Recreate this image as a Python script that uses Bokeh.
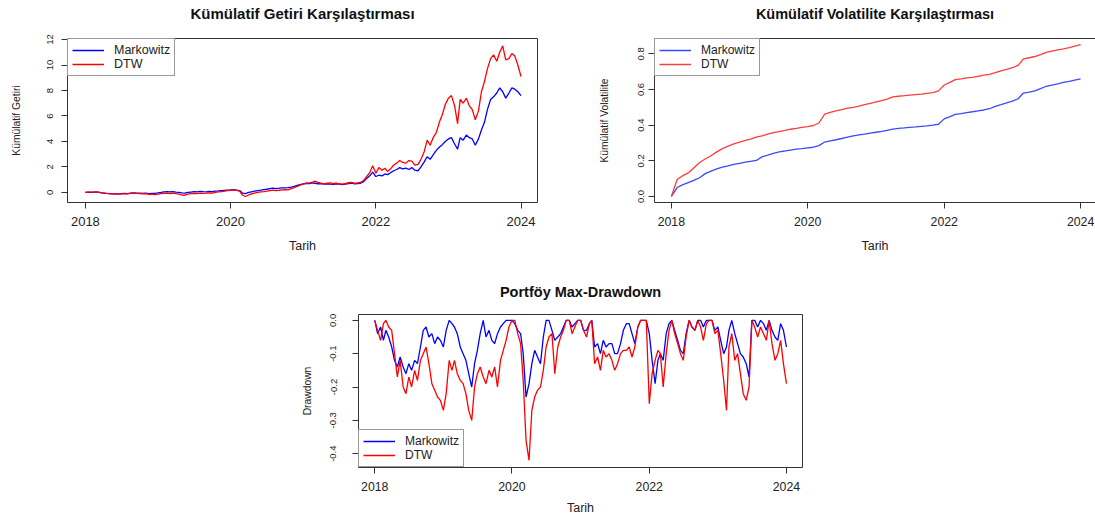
from datetime import datetime, timedelta
from bokeh.plotting import figure
from bokeh.models import (Range1d, FixedTicker, DatetimeTickFormatter, NumeralTickFormatter,
                          Legend, LegendItem, Spacer, DatetimeAxis, ColumnDataSource)
from bokeh.layouts import row, column
from bokeh.embed import file_html
from bokeh.resources import INLINE

# ---------------- data ----------------
half_month_dates = [datetime(y, m, d) for y in range(2018, 2024) for m in range(1, 13) for d in (1, 16)] + [datetime(2024, 1, 1)]
month_dates = [datetime(y, m, 1) for y in range(2018, 2024) for m in range(1, 13)] + [datetime(2024, 1, 1)]

cum_ret_markowitz = [
    0.00, 0.02, 0.00, 0.03, 0.02, -0.02, -0.05, -0.08, -0.10, -0.12, -0.10, -0.13,
    -0.10, -0.08, -0.10, -0.06, -0.04, -0.06, -0.05, -0.08, -0.06, -0.09, -0.07, -0.08,
    -0.04, 0.00, 0.05, 0.06, 0.04, 0.07, 0.03, 0.00, -0.04, -0.06, 0.00, 0.03,
    0.06, 0.04, 0.08, 0.06, 0.05, 0.08, 0.07, 0.10, 0.12, 0.14, 0.16, 0.18,
    0.20, 0.22, 0.18, 0.15, -0.05, -0.10, 0.00, 0.05, 0.10, 0.15, 0.18, 0.22,
    0.25, 0.30, 0.33, 0.30, 0.33, 0.36, 0.35, 0.38, 0.42, 0.48, 0.55, 0.62,
    0.68, 0.72, 0.70, 0.75, 0.72, 0.68, 0.70, 0.65, 0.68, 0.66, 0.64, 0.68,
    0.65, 0.62, 0.66, 0.70, 0.74, 0.68, 0.70, 0.72, 0.85, 1.10, 1.30, 1.60,
    1.25, 1.35, 1.30, 1.45, 1.40, 1.55, 1.70, 1.80, 1.95, 1.85, 1.90, 1.80,
    1.95, 1.75, 1.70, 2.00, 2.40, 2.80, 2.60, 2.95, 3.30, 3.55, 3.75, 4.00,
    4.20, 4.30, 3.80, 3.40, 4.30, 4.10, 4.50, 4.30, 4.20, 3.70, 4.20, 4.90,
    5.50, 6.50, 7.30, 7.50, 7.80, 8.20, 7.90, 7.40, 7.80, 8.20, 8.10, 7.90,
    7.60]
cum_ret_dtw = [
    0.00, 0.03, 0.02, 0.05, 0.04, 0.00, -0.04, -0.07, -0.10, -0.12, -0.11, -0.14,
    -0.12, -0.09, -0.12, -0.08, -0.06, -0.08, -0.09, -0.12, -0.10, -0.15, -0.14, -0.17,
    -0.14, -0.10, -0.08, -0.06, -0.09, -0.05, -0.10, -0.14, -0.20, -0.22, -0.14, -0.10,
    -0.07, -0.09, -0.05, -0.08, -0.06, -0.04, -0.05, 0.00, 0.04, 0.07, 0.10, 0.14,
    0.17, 0.20, 0.16, 0.10, -0.22, -0.32, -0.20, -0.12, -0.05, 0.00, 0.05, 0.07,
    0.10, 0.15, 0.18, 0.15, 0.17, 0.20, 0.22, 0.20, 0.30, 0.38, 0.48, 0.58,
    0.65, 0.72, 0.75, 0.80, 0.88, 0.78, 0.72, 0.68, 0.72, 0.75, 0.70, 0.72,
    0.68, 0.66, 0.70, 0.76, 0.78, 0.72, 0.74, 0.78, 0.95, 1.25, 1.55, 2.10,
    1.50, 1.95, 1.75, 1.90, 1.65, 1.85, 2.15, 2.30, 2.50, 2.35, 2.30, 2.50,
    2.45, 2.15, 2.20, 2.60, 3.20, 4.10, 3.70, 4.30, 4.70, 5.50, 6.10, 6.90,
    7.40, 7.60, 6.80, 5.40, 7.30, 7.00, 7.40, 6.80, 6.50, 5.70, 6.40, 7.90,
    8.70, 9.70, 10.50, 10.80, 10.30, 11.00, 11.50, 10.40, 10.50, 10.90, 10.70, 10.00,
    9.10]

cum_vol_markowitz = [
    0.000, 0.050, 0.065, 0.078, 0.090, 0.105, 0.128, 0.142, 0.155, 0.165, 0.172, 0.180,
    0.186, 0.192, 0.197, 0.202, 0.222, 0.232, 0.242, 0.250, 0.255, 0.260, 0.265, 0.268,
    0.272, 0.276, 0.285, 0.305, 0.312, 0.318, 0.325, 0.333, 0.340, 0.345, 0.350, 0.355,
    0.360, 0.365, 0.370, 0.378, 0.382, 0.385, 0.388, 0.390, 0.393, 0.396, 0.400, 0.405,
    0.435, 0.448, 0.460, 0.465, 0.470, 0.475, 0.480, 0.485, 0.492, 0.505, 0.515, 0.525,
    0.535, 0.548, 0.580, 0.585, 0.592, 0.605, 0.618, 0.625, 0.632, 0.640, 0.645, 0.653,
    0.660]
cum_vol_dtw = [
    0.000, 0.095, 0.115, 0.132, 0.160, 0.190, 0.210, 0.228, 0.250, 0.268, 0.282, 0.295,
    0.305, 0.315, 0.322, 0.333, 0.340, 0.350, 0.358, 0.364, 0.370, 0.377, 0.382, 0.388,
    0.392, 0.398, 0.412, 0.462, 0.472, 0.480, 0.487, 0.495, 0.500, 0.507, 0.515, 0.522,
    0.530, 0.538, 0.546, 0.558, 0.562, 0.565, 0.568, 0.571, 0.574, 0.578, 0.582, 0.592,
    0.625, 0.640, 0.655, 0.660, 0.665, 0.668, 0.674, 0.680, 0.685, 0.695, 0.705, 0.713,
    0.722, 0.735, 0.772, 0.778, 0.785, 0.795, 0.808, 0.815, 0.822, 0.828, 0.835, 0.843,
    0.852]

drawdown_markowitz = [
    0.00, -0.04, -0.02, -0.06, -0.03, -0.05, -0.08, -0.12, -0.14, -0.11, -0.14, -0.16,
    -0.13, -0.15, -0.12, -0.13, -0.08, -0.03, -0.02, -0.05, -0.04, -0.07, -0.05, -0.06,
    -0.08, -0.03, 0.00, -0.01, -0.02, -0.04, -0.08, -0.10, -0.12, -0.16, -0.20, -0.13,
    -0.09, -0.04, 0.00, -0.05, -0.03, -0.06, -0.07, -0.04, -0.02, -0.01, 0.00, 0.00,
    0.00, -0.01, -0.03, -0.04, -0.10, -0.23, -0.19, -0.13, -0.09, -0.11, -0.13, -0.05,
    0.00, 0.00, -0.03, -0.06, -0.05, -0.04, -0.02, 0.00, 0.00, -0.02, -0.01, 0.00,
    0.00, -0.03, -0.03, -0.01, 0.00, -0.08, -0.07, -0.10, -0.06, -0.08, -0.07, -0.07,
    -0.10, -0.10, -0.07, -0.03, -0.01, -0.01, -0.04, -0.07, -0.02, 0.00, 0.00, 0.00,
    -0.04, -0.12, -0.19, -0.12, -0.10, -0.12, -0.04, -0.01, 0.00, -0.03, -0.06, -0.09,
    -0.10, -0.04, 0.00, -0.02, -0.03, 0.00, 0.00, -0.02, 0.00, 0.00, 0.00, -0.03,
    -0.02, -0.06, -0.10, -0.08, -0.03, 0.00, -0.04, -0.07, -0.10, -0.11, -0.13, -0.17,
    0.00, 0.00, -0.02, 0.00, -0.01, -0.03, 0.00, -0.03, -0.05, -0.06, -0.01, -0.03,
    -0.08]
drawdown_dtw = [
    0.00, -0.03, -0.06, -0.01, 0.00, -0.02, -0.03, -0.10, -0.17, -0.12, -0.20, -0.22,
    -0.17, -0.20, -0.15, -0.18, -0.12, -0.10, -0.08, -0.13, -0.19, -0.21, -0.23, -0.24,
    -0.27, -0.22, -0.12, -0.15, -0.12, -0.16, -0.18, -0.19, -0.22, -0.27, -0.30, -0.20,
    -0.16, -0.14, -0.17, -0.19, -0.15, -0.17, -0.14, -0.20, -0.12, -0.09, -0.06, -0.02,
    0.00, 0.00, -0.04, -0.07, -0.18, -0.36, -0.42, -0.27, -0.23, -0.21, -0.20, -0.15,
    -0.08, -0.05, -0.04, -0.16, -0.08, -0.05, -0.03, 0.00, 0.00, -0.04, -0.02, 0.00,
    0.00, -0.03, -0.05, -0.01, 0.00, -0.13, -0.11, -0.15, -0.09, -0.11, -0.10, -0.12,
    -0.15, -0.13, -0.10, -0.09, -0.09, -0.08, -0.11, -0.08, -0.02, 0.00, 0.00, 0.00,
    -0.25, -0.16, -0.12, -0.09, -0.10, -0.20, -0.10, -0.03, 0.00, -0.04, -0.07, -0.10,
    -0.12, -0.05, 0.00, -0.02, -0.03, 0.00, -0.02, -0.06, -0.01, 0.00, 0.00, -0.04,
    -0.03, -0.10, -0.18, -0.27, -0.08, -0.04, -0.12, -0.10, -0.16, -0.22, -0.24, -0.20,
    0.00, -0.02, -0.05, -0.02, -0.04, -0.06, 0.00, -0.07, -0.12, -0.10, -0.06, -0.13,
    -0.19]

year_ticks = [2018, 2020, 2022, 2024]
ret_ticks = [0, 2, 4, 6, 8, 10, 12]
vol_ticks = [0.0, 0.2, 0.4, 0.6, 0.8]
dd_ticks = [0.0, -0.1, -0.2, -0.3, -0.4]
series_labels = ["Markowitz", "DTW"]

# ---------------- helpers ----------------
FONT = "Liberation Sans"
INK = "#222222"
BOX = "#333333"


def dyear(y):
    base = int(y // 1)
    return datetime(base, 1, 1) + timedelta(days=(y - base) * 365.25)


def ms(dt):
    return (dt - datetime(1970, 1, 1)).total_seconds() * 1000.0


def make_fig(title, dates, m_vals, d_vals, width, height, mb, xr, yr, yticks, yfmt,
             ylabel, title_size, tick_size, legend_size, legend_loc, lw, colors,
             ylab_standoff, ytick_standoff, xlab_standoff, title_gap, full_box=True):
    p = figure(width=width, height=height, x_axis_type="datetime", output_backend="svg",
               toolbar_location=None, x_range=Range1d(dyear(xr[0]), dyear(xr[1])),
               y_range=Range1d(yr[0], yr[1]),
               min_border_left=mb[0], min_border_right=mb[1],
               min_border_top=mb[2], min_border_bottom=mb[3])
    p.background_fill_color = "white"
    p.border_fill_color = "white"
    p.xgrid.visible = False
    p.ygrid.visible = False
    p.title.text = title
    p.title.align = "center"
    p.title.text_font = FONT
    p.title.text_font_size = title_size
    p.title.text_font_style = "bold"
    p.title.text_color = "#111111"
    p.title.standoff = 0

    if full_box:
        p.outline_line_color = BOX
        p.outline_line_width = 1
    else:
        p.outline_line_color = None

    xa = p.xaxis[0]
    xa.ticker = FixedTicker(ticks=[ms(datetime(y, 1, 1)) for y in year_ticks])
    xa.formatter = DatetimeTickFormatter(years="%Y", months="%Y", days="%Y", hours="%Y")
    xa.axis_label = "Tarih"
    ya = p.yaxis[0]
    ya.ticker = FixedTicker(ticks=yticks)
    if yfmt:
        ya.formatter = NumeralTickFormatter(format=yfmt)
    ya.axis_label = ylabel
    ya.major_label_orientation = "vertical"

    for ax in (xa, ya):
        ax.axis_label_text_font = FONT
        ax.axis_label_text_font_style = "normal"
        ax.axis_label_text_color = INK
        ax.major_label_text_font = FONT
        ax.major_label_text_color = INK
        ax.minor_tick_line_color = None
        ax.major_tick_line_color = BOX
        ax.major_tick_in = 0
        ax.major_tick_out = 6
        ax.axis_line_color = None if full_box else BOX
    xa.major_label_text_font_size = tick_size
    xa.axis_label_text_font_size = "12.5px"
    xa.major_label_standoff = 8
    xa.axis_label_standoff = xlab_standoff
    ya.major_label_text_font_size = "9.5px"
    ya.axis_label_text_font_size = "10.3px"
    ya.major_label_standoff = ytick_standoff
    ya.axis_label_standoff = ylab_standoff

    # empty top axis (no ticks): draws the top edge where needed; its blank label
    # keeps the title clear of the frame, as in the original
    top = DatetimeAxis(ticker=FixedTicker(ticks=[]),
                       axis_line_color=None if full_box else BOX,
                       major_tick_line_color=None, minor_tick_line_color=None,
                       major_tick_in=0, major_tick_out=0, minor_tick_out=0,
                       major_label_text_font_size="0px",
                       axis_label=" ", axis_label_standoff=0,
                       axis_label_text_font_size="%gpx" % title_gap)
    p.add_layout(top, "above")

    src = ColumnDataSource(dict(date=dates, m=m_vals, d=d_vals))
    r1 = p.line(x="date", y="m", source=src, line_color=colors[0], line_width=lw)
    r2 = p.line(x="date", y="d", source=src, line_color=colors[1], line_width=lw)
    leg = Legend(items=[LegendItem(label=series_labels[0], renderers=[r1]),
                        LegendItem(label=series_labels[1], renderers=[r2])],
                 location=legend_loc, margin=0, padding=4, spacing=0,
                 label_standoff=10, glyph_width=32, glyph_height=14, label_height=14,
                 label_text_font=FONT, label_text_font_size=legend_size,
                 label_text_color=INK, border_line_color=BOX, border_line_width=1,
                 background_fill_color="white", background_fill_alpha=1.0)
    p.add_layout(leg)
    return p


p1 = make_fig("Kümülatif Getiri Karşılaştırması", half_month_dates, cum_ret_markowitz, cum_ret_dtw,
              595, 258, (67, 58, 38, 56), (2017.753, 2024.227), (-0.79, 12.08), ret_ticks, None,
              "Kümülatif Getiri", "15px", "13px", "12.5px", "top_left", 1.3, ("blue", "red"),
              23, 8, 10, 12.5)
p2 = make_fig("Kümülatif Volatilite Karşılaştırması", month_dates, cum_vol_markowitz, cum_vol_dtw,
              500, 258, (57, 0, 38, 56), (2017.752, 2024.219), (-0.034, 0.886), vol_ticks, "0.0",
              "Kümülatif Volatilite", "14.5px", "12.3px", "12px", "top_left", 1.3, ("#3a4aff", "#ff3c3c"),
              26, 4, 10, 12.5, full_box=False)
p3 = make_fig("Portföy Max-Drawdown", half_month_dates, drawdown_markowitz, drawdown_dtw,
              524, 259, (60, 20, 56, 47), (2017.762, 2024.234), (-0.4415, 0.0175), dd_ticks, "0.0",
              "Drawdown", "14.5px", "12.3px", "12px", "bottom_left", 1.3, ("blue", "red"),
              15, 16, 7, 11)

layout = column(row(p1, p2), row(Spacer(width=298, height=259), p3))

with open("out.html", "w") as f:
    f.write(file_html(layout, INLINE))
